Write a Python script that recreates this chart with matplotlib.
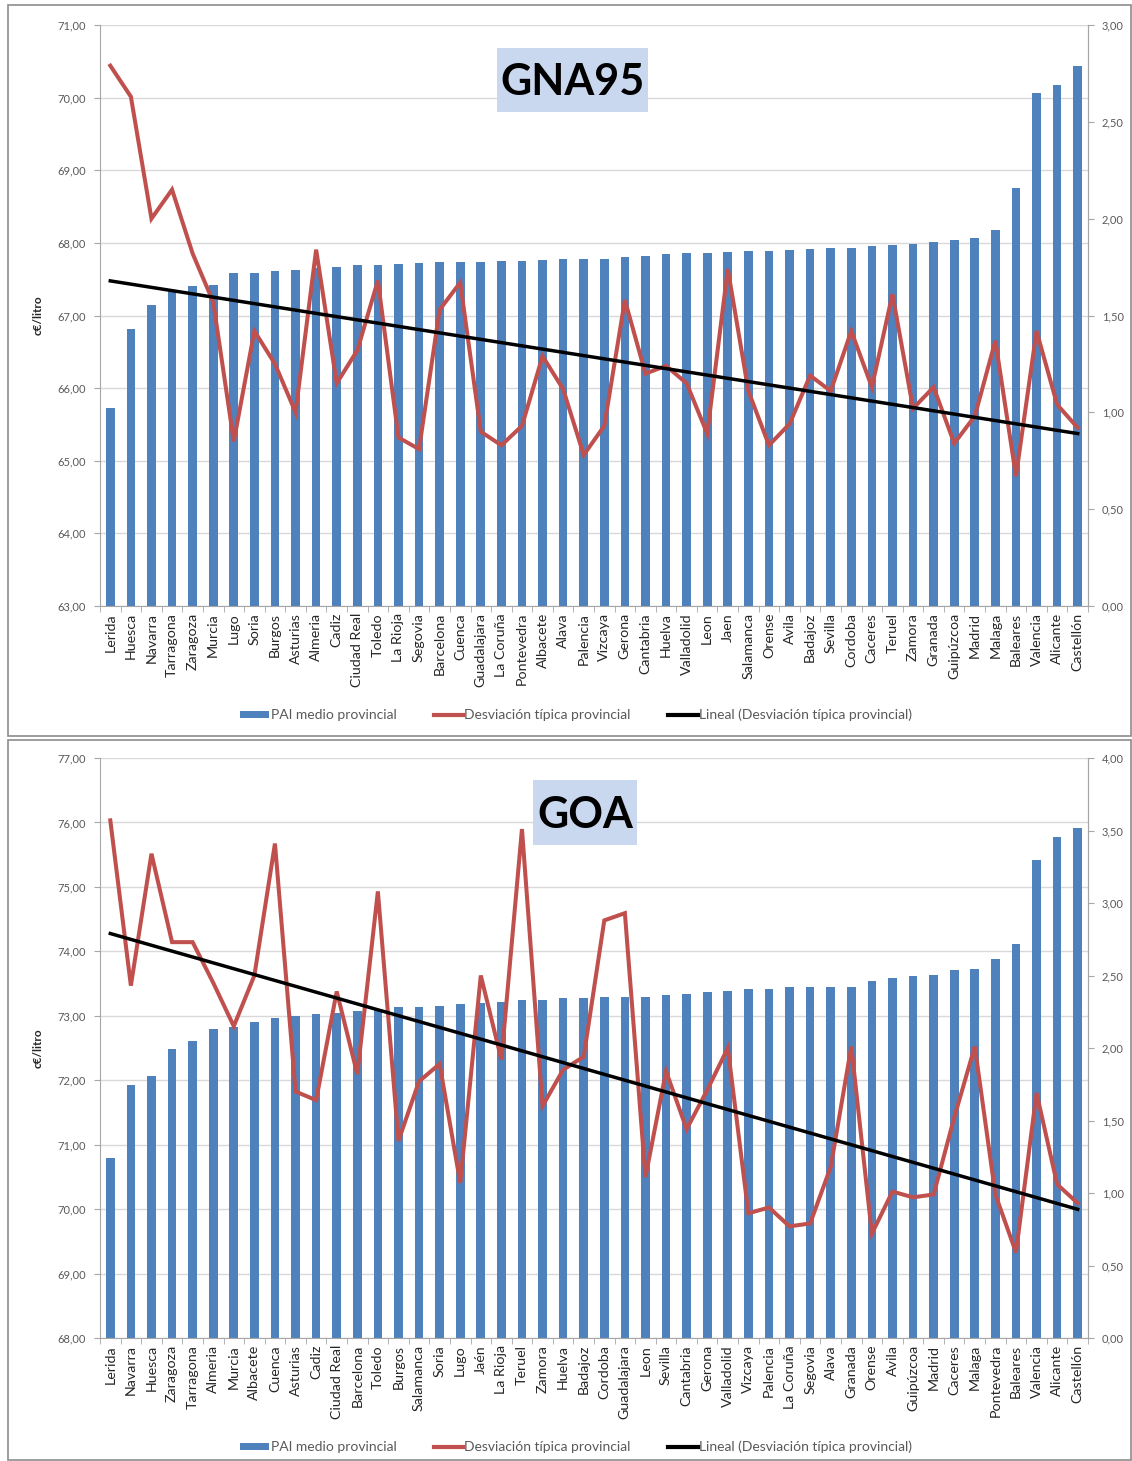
import matplotlib
matplotlib.use("Agg")
import matplotlib.pyplot as plt
import numpy as np
from matplotlib.patches import Rectangle, Patch
from matplotlib.lines import Line2D
from matplotlib.ticker import FuncFormatter, FixedLocator, MultipleLocator

plt.rcParams['font.family'] = ['Lato', 'DejaVu Sans']

# ---------------- data ----------------
prov_gna = ["Lerida", "Huesca", "Navarra", "Tarragona", "Zaragoza", "Murcia", "Lugo", "Soria",
            "Burgos", "Asturias", "Almeria", "Cadiz", "Ciudad Real", "Toledo", "La Rioja", "Segovia",
            "Barcelona", "Cuenca", "Guadalajara", "La Coruña", "Pontevedra", "Albacete", "Alava",
            "Palencia", "Vizcaya", "Gerona", "Cantabria", "Huelva", "Valladolid", "Leon", "Jaen",
            "Salamanca", "Orense", "Avila", "Badajoz", "Sevilla", "Cordoba", "Caceres", "Teruel",
            "Zamora", "Granada", "Guipúzcoa", "Madrid", "Malaga", "Baleares", "Valencia", "Alicante",
            "Castellón"]
pai_gna = [65.72, 66.82, 67.14, 67.35, 67.41, 67.42, 67.58, 67.59, 67.61, 67.63, 67.65, 67.67,
           67.69, 67.70, 67.71, 67.72, 67.73, 67.73, 67.74, 67.75, 67.75, 67.77, 67.78, 67.78,
           67.78, 67.80, 67.82, 67.85, 67.86, 67.86, 67.87, 67.89, 67.89, 67.90, 67.92, 67.93,
           67.93, 67.96, 67.97, 67.99, 68.01, 68.04, 68.07, 68.18, 68.76, 70.06, 70.17, 70.44]
std_gna = [2.79, 2.63, 2.00, 2.15, 1.82, 1.57, 0.85, 1.42, 1.25, 1.00, 1.84, 1.15, 1.32, 1.68,
           0.87, 0.81, 1.53, 1.67, 0.90, 0.83, 0.93, 1.29, 1.12, 0.78, 0.93, 1.58, 1.20, 1.24,
           1.15, 0.89, 1.74, 1.11, 0.83, 0.94, 1.19, 1.11, 1.42, 1.13, 1.61, 1.02, 1.13, 0.84,
           0.98, 1.37, 0.67, 1.42, 1.04, 0.92]

prov_goa = ["Lerida", "Navarra", "Huesca", "Zaragoza", "Tarragona", "Almeria", "Murcia", "Albacete",
            "Cuenca", "Asturias", "Cadiz", "Ciudad Real", "Barcelona", "Toledo", "Burgos",
            "Salamanca", "Soria", "Lugo", "Jaén", "La Rioja", "Teruel", "Zamora", "Huelva",
            "Badajoz", "Cordoba", "Guadalajara", "Leon", "Sevilla", "Cantabria", "Gerona",
            "Valladolid", "Vizcaya", "Palencia", "La Coruña", "Segovia", "Alava", "Granada",
            "Orense", "Avila", "Guipúzcoa", "Madrid", "Caceres", "Malaga", "Pontevedra", "Baleares",
            "Valencia", "Alicante", "Castellón"]
pai_goa = [70.80, 71.93, 72.06, 72.49, 72.61, 72.79, 72.83, 72.91, 72.96, 72.99, 73.02, 73.05,
           73.08, 73.10, 73.14, 73.14, 73.15, 73.18, 73.20, 73.22, 73.24, 73.25, 73.28, 73.28,
           73.29, 73.29, 73.29, 73.33, 73.34, 73.37, 73.39, 73.41, 73.41, 73.44, 73.44, 73.44,
           73.44, 73.54, 73.58, 73.62, 73.64, 73.71, 73.73, 73.88, 74.12, 75.41, 75.78, 75.91]
std_goa = [3.57, 2.43, 3.34, 2.73, 2.73, 2.45, 2.15, 2.50, 3.41, 1.70, 1.64, 2.39, 1.82, 3.08,
           1.36, 1.77, 1.89, 1.07, 2.50, 1.92, 3.51, 1.60, 1.85, 1.94, 2.88, 2.93, 1.11, 1.84,
           1.44, 1.71, 2.00, 0.86, 0.90, 0.77, 0.79, 1.18, 2.01, 0.72, 1.01, 0.97, 0.99, 1.52,
           2.01, 0.99, 0.59, 1.69, 1.06, 0.93]

legend_labels = ["PAI medio provincial", "Desviación típica provincial",
                 "Lineal (Desviación típica provincial)"]

BLUE = "#4F81BD"
RED = "#C0504D"
GRID = "#D9D9D9"
TXT = "#595959"

W, H = 1132, 1461
fig = plt.figure(figsize=(W / 100, H / 100), dpi=100)
fig.patch.set_facecolor("white")

comma = FuncFormatter(lambda v, p: f"{v:.2f}".replace(".", ","))


def px_rect(x0, y0, x1, y1):
    return [x0 / W, 1 - y1 / H, (x1 - x0) / W, (y1 - y0) / H]


def panel(box_px, ax_px, provs, pai, std, ylim, ystep, rlim, rstep, title, tbox, legend_y):
    # outer frame
    x0, y0, x1, y1 = box_px
    fig.patches.append(Rectangle((x0 / W, 1 - y1 / H), (x1 - x0) / W, (y1 - y0) / H,
                                 transform=fig.transFigure, fill=False,
                                 edgecolor="#8C8C8C", linewidth=1.2, zorder=0))
    ax = fig.add_axes(px_rect(*ax_px))
    n = len(provs)
    x = np.arange(n)
    ax.bar(x, pai, width=0.42, color=BLUE, zorder=2)
    ax.set_xlim(-0.5, n - 0.5)
    ax.set_ylim(*ylim)
    ax.yaxis.set_major_locator(MultipleLocator(ystep))
    ax.yaxis.set_major_formatter(comma)
    ax.grid(axis="y", color=GRID, linewidth=1.0, zorder=0)
    ax.set_axisbelow(True)
    ax.set_xticks(x)
    ax.set_xticklabels(provs, rotation=90, fontsize=10.3, color="#262626")
    ax.xaxis.set_minor_locator(FixedLocator(np.arange(-0.5, n, 1.0)))
    ax.tick_params(axis="x", which="major", length=0, pad=5)
    ax.tick_params(axis="x", which="minor", length=4, color="#A6A6A6")
    ax.tick_params(axis="y", length=4, color="#A6A6A6", labelsize=8, labelcolor=TXT, pad=6)
    ax.spines["top"].set_visible(False)
    for s in ["left", "bottom", "right"]:
        ax.spines[s].set_color("#A6A6A6")
    ax.set_ylabel("c€/litro", fontsize=8.5, fontweight="bold", color="#262626", labelpad=10)

    ax2 = ax.twinx()
    ax2.set_ylim(*rlim)
    ax2.yaxis.set_major_locator(MultipleLocator(rstep))
    ax2.yaxis.set_major_formatter(comma)
    ax2.tick_params(axis="y", length=4, color="#A6A6A6", labelsize=8, labelcolor=TXT, pad=6)
    for s in ["top", "left", "bottom"]:
        ax2.spines[s].set_visible(False)
    ax2.spines["right"].set_color("#A6A6A6")
    ax2.plot(x, std, color=RED, linewidth=2.9, zorder=3, solid_joinstyle="miter")
    coef = np.polyfit(x, std, 1)
    ax2.plot(x, np.polyval(coef, x), color="black", linewidth=2.5, zorder=4)

    # title box
    bx0, by0, bx1, by1 = tbox
    fig.patches.append(Rectangle((bx0 / W, 1 - by1 / H), (bx1 - bx0) / W, (by1 - by0) / H,
                                 transform=fig.transFigure, facecolor="#C9D8EF",
                                 edgecolor="none", zorder=5))
    fig.text((bx0 + bx1) / 2 / W, 1 - ((by0 + by1) / 2 + 2) / H, title, ha="center",
             va="center", fontsize=31, fontweight="bold", color="black", zorder=6)

    handles = [Patch(facecolor=BLUE, edgecolor="none"),
               Line2D([], [], color=RED, linewidth=3),
               Line2D([], [], color="black", linewidth=3)]
    fig.legend(handles, legend_labels, loc="center", bbox_to_anchor=(576 / W, 1 - legend_y / H),
               ncol=3, frameon=False, fontsize=10, labelcolor=TXT, handlelength=2.1,
               handleheight=0.45, handletextpad=0.1, columnspacing=2.7)
    return ax


panel((8, 5, 1131, 736), (100, 25, 1088, 606), prov_gna, pai_gna, std_gna,
      (63, 71), 1, (0, 3), 0.5, "GNA95", (497, 48, 648, 112), 715)
panel((8, 740, 1131, 1460), (100, 758, 1088, 1338), prov_goa, pai_goa, std_goa,
      (68, 77), 1, (0, 4), 0.5, "GOA", (533, 780, 637, 845), 1447)

fig.savefig("out.png", dpi=100, facecolor="white")
